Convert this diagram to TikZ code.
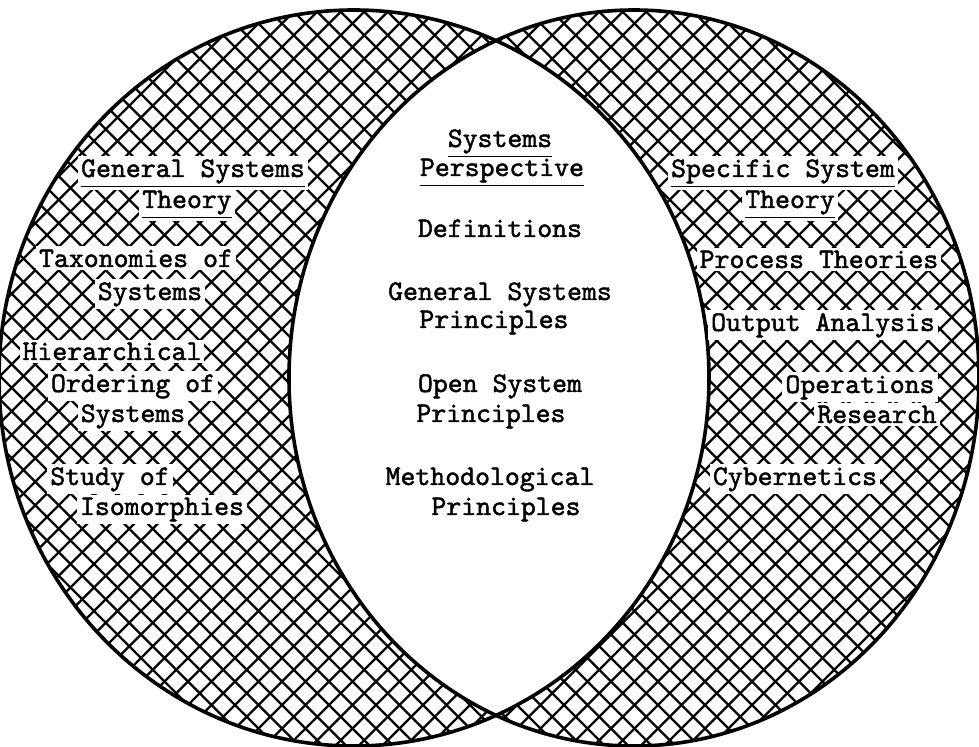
\documentclass[tikz,border=0pt]{standalone}
\usepackage{fontspec}
\newfontfamily\typefont{lmmono10-regular.otf}[FakeBold=1.6]
\begin{document}
\begin{tikzpicture}[x=0.5pt,y=-0.5pt,
  lbl/.style={font=\typefont\fontsize{14.2}{16}\selectfont, inner sep=1.5pt, anchor=base},
  onhatch/.style={lbl, fill=white},
  hatch/.style={line width=1.2pt, line cap=round},
  rim/.style={line width=1.8pt}]
\useasboundingbox (0,0) rectangle (979,747);

% cross-hatching inside the left set
\begin{scope}
  \clip (354,378) ellipse [x radius=177.5pt, y radius=184pt];
  \foreach \i in {-34,...,44} {\draw[hatch] ({\i*23.5-100},-100) -- ({\i*23.5+900},900);}
  \foreach \i in {0,...,77} {\draw[hatch] ({\i*23.5+100},-100) -- ({\i*23.5-900},900);}
\end{scope}
% cross-hatching inside the right set
\begin{scope}
  \clip (634,378) ellipse [x radius=172.5pt, y radius=184pt];
  \foreach \i in {-34,...,44} {\draw[hatch] ({\i*23.5-100},-100) -- ({\i*23.5+900},900);}
  \foreach \i in {0,...,77} {\draw[hatch] ({\i*23.5+100},-100) -- ({\i*23.5-900},900);}
\end{scope}
% the common lens stays white
\begin{scope}
  \clip (354,378) ellipse [x radius=177.5pt, y radius=184pt];
  \fill[white] (634,378) ellipse [x radius=172.5pt, y radius=184pt];
\end{scope}
% outlines of both sets
\draw[rim] (354,378) ellipse [x radius=177.5pt, y radius=184pt];
\draw[rim] (634,378) ellipse [x radius=172.5pt, y radius=184pt];

% centre: systems perspective
\node[lbl] (sp1) at (500,147) {\underline{Systems}};
\node[lbl] (sp2) at (502,176) {\underline{Perspective}};
\node[lbl] (def) at (500,237) {Definitions};
\node[lbl] (gsp1) at (500,300) {General Systems};
\node[lbl] (gsp2) at (494,328) {Principles};
\node[lbl] (osp1) at (500,392) {Open System};
\node[lbl] (osp2) at (491,422) {Principles};
\node[lbl] (mp1) at (490,485) {Methodological};
\node[lbl] (mp2) at (506,515) {Principles};

% left: general systems theory
\node[onhatch] (gst1) at (193,177) {\underline{General Systems}};
\node[onhatch] (gst2) at (187,208) {\underline{Theory}};
\node[onhatch] (tax1) at (136,267) {Taxonomies of};
\node[onhatch] (tax2) at (150,300) {Systems};
\node[onhatch] (hier1) at (112,360) {Hierarchical};
\node[onhatch] (hier2) at (133,392) {Ordering of};
\node[onhatch] (hier3) at (133,422) {Systems};
\node[onhatch] (iso1) at (110,485) {Study of};
\node[onhatch] (iso2) at (162,515) {Isomorphies};

% right: specific system theory
\node[onhatch] (sst1) at (783,177) {\underline{Specific System}};
\node[onhatch] (sst2) at (790,208) {\underline{Theory}};
\node[onhatch] (proc) at (819,268) {Process Theories};
\node[onhatch] (out) at (823,331) {Output Analysis};
\node[onhatch] (ops1) at (860,393) {Operations};
\node[onhatch] (ops2) at (877,423) {Research};
\node[onhatch] (cyb) at (795,485) {Cybernetics};
\end{tikzpicture}
\end{document}
